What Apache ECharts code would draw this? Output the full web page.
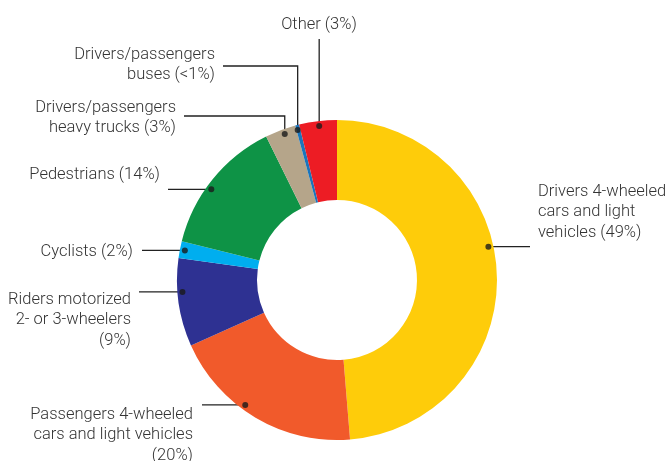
<!DOCTYPE html>
<html>
<head>
<meta charset="utf-8">
<title>Road traffic deaths by road user</title>
<script src="https://cdn.jsdelivr.net/npm/echarts@6/dist/echarts.min.js"></script>
<style>
  html, body { margin: 0; padding: 0; background: #fff; }
  #main { width: 670px; height: 461px; }
</style>
</head>
<body>
<div id="main"></div>
<script>
// slice names (labels already broken into lines as in the figure)
var categories = [
  'Drivers 4-wheeled\ncars and light\nvehicles (49%)',
  'Passengers 4-wheeled\ncars and light vehicles\n(20%)',
  'Riders motorized\n2- or 3-wheelers\n(9%)',
  'Cyclists (2%)',
  'Pedestrians (14%)',
  'Drivers/passengers\nheavy trucks (3%)',
  'Drivers/passengers\nbuses (<1%)',
  'Other (3%)'
];
// share of deaths
var values = [48.7, 19.6, 8.9, 1.7, 13.8, 3.1, 0.4, 3.8];
var colors = ['#fecc0a', '#f15a2b', '#2e3192', '#00aeef', '#0e9346', '#b5a58a', '#1b75bb', '#ed1c24'];

// where each leader dot sits on the ring (degrees clockwise from 12 o'clock)
var dotAngles = [77.6, 216.3, 265.6, 281, 305.8, 340.3, 345.3, 353.4];

// label layout: text anchor, alignment, start of leader line, leader shape
var cx = 337, cy = 280, rIn = 80, rOut = 160, rDot = 155;
var labelPos = [
  { x: 538, y: 212, align: 'left',   lx: 530, ly: null, kind: 'h' },
  { x: 193, y: 435, align: 'right',  lx: 202, ly: null, kind: 'h' },
  { x: 131, y: 320, align: 'right',  lx: 139, ly: null, kind: 'h' },
  { x: 133, y: 252, align: 'right',  lx: 142, ly: null, kind: 'h' },
  { x: 160, y: 175, align: 'right',  lx: 168, ly: null, kind: 'h' },
  { x: 176, y: 118, align: 'right',  lx: 184, ly: 116,  kind: 'elbow' },
  { x: 215, y: 65,  align: 'right',  lx: 223, ly: 66,   kind: 'elbow' },
  { x: 319, y: 25,  align: 'center', lx: null, ly: 39,  kind: 'v' }
];

function dotPixel(i) {
  var a = dotAngles[i] * Math.PI / 180;
  return [cx + rDot * Math.sin(a), cy - rDot * Math.cos(a)];
}

var chart = echarts.init(document.getElementById('main'));

var pieData = categories.map(function (name, i) {
  return { name: name, value: values[i], itemStyle: { color: colors[i] } };
});

chart.setOption({
  animation: false,
  textStyle: { fontFamily: 'Roboto, sans-serif' },
  polar: { center: [cx, cy], radius: rOut },
  angleAxis: { type: 'value', min: 0, max: 360, startAngle: 90, clockwise: true, show: false },
  radiusAxis: { type: 'value', min: 0, max: rOut, show: false },
  series: [
    {
      type: 'pie',
      center: [cx, cy],
      radius: [rIn, rOut],
      startAngle: 90,
      clockwise: true,
      avoidLabelOverlap: false,
      silent: true,
      data: pieData,
      label: {
        show: true,
        position: 'outside',
        color: '#333',
        fontSize: 16.5,
        fontWeight: 300,
        lineHeight: 20.5,
        fontFamily: 'Roboto, sans-serif',
        formatter: '{b}'
      },
      labelLine: { show: true, lineStyle: { color: '#222', width: 1.3 } },
      labelLayout: function (params) {
        var i = params.dataIndex;
        var p = labelPos[i];
        var d = dotPixel(i);
        var pts;
        if (p.kind === 'h') {
          pts = [[p.lx, d[1]], [(p.lx + d[0]) / 2, d[1]], d];
        } else if (p.kind === 'elbow') {
          pts = [[p.lx, p.ly], [d[0], p.ly], d];
        } else {
          pts = [[d[0], p.ly], [d[0], (p.ly + d[1]) / 2], d];
        }
        return {
          x: p.x,
          y: p.y,
          align: p.align,
          verticalAlign: 'middle',
          labelLinePoints: pts
        };
      }
    },
    {
      type: 'scatter',
      coordinateSystem: 'polar',
      silent: true,
      symbol: 'circle',
      symbolSize: 6,
      itemStyle: { color: '#1a1a1a' },
      z: 5,
      data: dotAngles.map(function (a) { return [rDot, a]; })
    }
  ]
});
</script>
</body>
</html>
